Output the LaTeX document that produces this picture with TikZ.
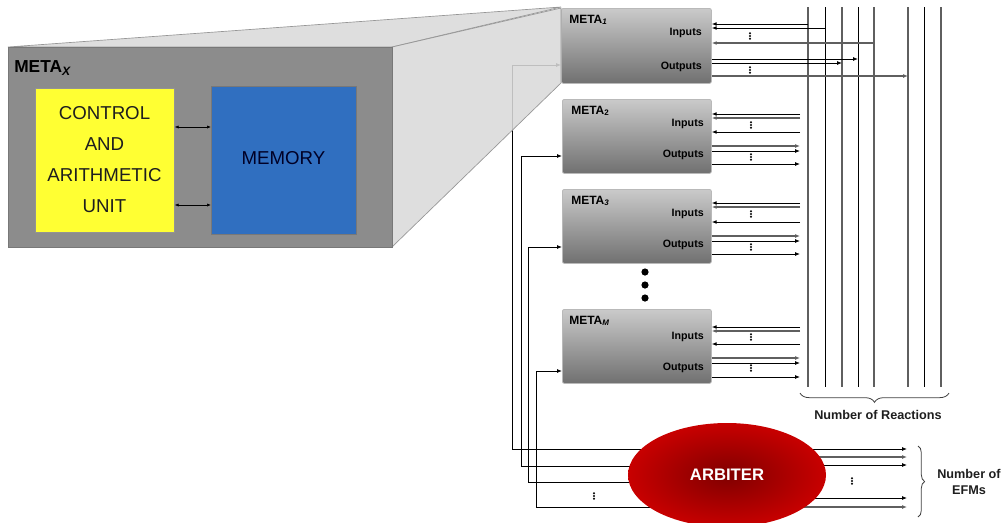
\documentclass[tikz,border=0pt]{standalone}
\usepackage{fontspec}
\setmainfont{Liberation Sans}
\usetikzlibrary{arrows.meta,decorations.pathreplacing,shapes.geometric}
\definecolor{facegray}{RGB}{217,217,217}
\definecolor{faceline}{RGB}{150,150,150}
\definecolor{boxgray}{RGB}{140,140,140}
\definecolor{boxline}{RGB}{120,120,120}
\definecolor{ctlyellow}{RGB}{255,255,51}
\definecolor{memblue}{RGB}{48,111,192}
\definecolor{metatop}{RGB}{202,202,202}
\definecolor{metabot}{RGB}{112,112,112}
\definecolor{metaline}{RGB}{185,185,185}
\definecolor{wiregray}{RGB}{95,95,95}
\definecolor{arbdark}{RGB}{128,0,0}
\definecolor{arbred}{RGB}{200,0,0}
\definecolor{txtdark}{RGB}{30,30,30}
\newcommand\mydots[1]{\fill #1 ++(0,-2.8) circle (1.15) ++(0,2.8) circle (1.15) ++(0,2.8) circle (1.15);}
\begin{document}
\begin{tikzpicture}[x=0.75pt,y=-0.75pt,
  tip/.style={-{Latex[length=3.6pt,width=2.8pt]}},
  wire/.style={black,line width=0.55pt},
  gwire/.style={wiregray,line width=0.85pt},
  bus/.style={wiregray,line width=1.1pt},
  bbus/.style={black,line width=0.7pt},
  metabox/.style={draw=metaline,line width=0.6pt,rounded corners=1.5pt,top color=metatop,bottom color=metabot,minimum width=111.75pt,minimum height=55.5pt,anchor=north west,inner sep=0pt},
  metalbl/.style={font=\fontsize{9}{10}\selectfont\bfseries,anchor=west,inner sep=0pt},
  iolbl/.style={font=\fontsize{8}{9}\selectfont\bfseries,anchor=east,inner sep=0pt},
  face/.style={fill=facegray,fill opacity=0.88,draw=faceline,line width=0.5pt},
  bigtxt/.style={font=\fontsize{14}{23.25}\selectfont,text=txtdark,align=center},
  dbl/.style={{Latex[length=3pt,width=2.4pt]}-{Latex[length=3pt,width=2.4pt]},black,line width=0.5pt},
  lbl/.style={font=\fontsize{9.5}{12}\selectfont\bfseries,text=txtdark,align=center,inner sep=0pt}
]
\useasboundingbox (0,0) rectangle (1001,522);

% coordinates
\coordinate (arbc) at (727,475);
\coordinate (busin) at (800,0);
\coordinate (efmend) at (907,0);
\foreach \n/\x in {1/808,2/825,3/842,4/858,5/874,6/908,7/924,8/941} {\coordinate (r\n) at (\x,7);}

% META boxes
\node[metabox,minimum width=112.5pt,minimum height=56.25pt] (meta1) at (561,8) {};
\node[metabox] (meta2) at (562,99) {};
\node[metabox] (meta3) at (562,189) {};
\node[metabox] (metam) at (562,309) {};

% feedback lines from arbiter
\draw[wire,tip] (arbc |- 0,449) -| (512,65) -- (meta1.west |- 0,65);
\draw[wire,tip] (arbc |- 0,466) -| (521,156) -- (meta2.west |- 0,156);
\draw[wire,tip] (arbc |- 0,482) -| (528,247) -- (meta3.west |- 0,247);
\draw[wire,tip] (arbc |- 0,507) -| (536,371) -- (metam.west |- 0,371);
\mydots{(594,496)}

% perspective faces and META_X
\path[face] (8,47) -- (561,7) -- (392,47) -- cycle;
\path[face] (392,47) -- (561,8) -- (561,83) -- (392,247) -- cycle;
\node[draw=boxline,fill=boxgray,line width=0.6pt,minimum width=288pt,minimum height=150pt,anchor=north west,inner sep=0pt] (metax) at (8,47) {};
\node[font=\fontsize{13}{15}\selectfont\bfseries,anchor=west,inner sep=0pt] (metaxl) at (14,68) {META\textsubscript{\textit{X}}};
\node[draw=boxline!80,fill=ctlyellow,line width=0.5pt,minimum width=104.25pt,minimum height=108pt,anchor=north west,inner sep=0pt] (ctl) at (35,88) {};
\node[bigtxt] (ctlt) at (104.5,160) {CONTROL\\AND\\ARITHMETIC\\UNIT};
\node[draw=boxline,fill=memblue,line width=0.5pt,minimum width=108.75pt,minimum height=111pt,anchor=north west,inner sep=0pt] (mem) at (211,86) {};
\node[bigtxt,text=black!85!blue] (memt) at (283.5,158) {MEMORY};
\draw[dbl] (ctl.east |- 0,127) -- (mem.west |- 0,127);
\draw[dbl] (ctl.east |- 0,205) -- (mem.west |- 0,205);

% META labels
\node[metalbl] (m1l) at (569,20) {META\textsubscript{\textit{1}}};
\node[iolbl] (m1i) at (702,33) {Inputs};
\node[iolbl] (m1o) at (702,67) {Outputs};
\node[metalbl] (m2l) at (571,111) {META\textsubscript{2}};
\node[iolbl] (m2i) at (704,124) {Inputs};
\node[iolbl] (m2o) at (704,155) {Outputs};
\node[metalbl] (m3l) at (571,201) {META\textsubscript{\textit{3}}};
\node[iolbl] (m3i) at (704,214) {Inputs};
\node[iolbl] (m3o) at (704,245) {Outputs};
\node[metalbl] (mml) at (569,321) {META\textsubscript{\textit{M}}};
\node[iolbl] (mmi) at (704,337) {Inputs};
\node[iolbl] (mmo) at (704,368) {Outputs};

% big dots
\foreach \y in {272,285,298} {\fill (645,\y) circle (3.6);}

% reaction buses
\foreach \n in {1,3,5,6,8} {\draw[bus] (r\n) -- ++(0,380);}
\foreach \n in {2,4,7} {\draw[bbus] (r\n) -- ++(0,380);}

% META1 wires
\draw[wire,tip] (r1 |- 0,24) -- (meta1.east |- 0,24);
\draw[wire,tip] (r2 |- 0,28) -- (meta1.east |- 0,28);
\draw[gwire,tip] (r5 |- 0,43) -- (meta1.east |- 0,43);
\draw[wire,tip] (meta1.east |- 0,59) -- (r4 |- 0,59);
\draw[wire,tip] (meta1.east |- 0,63) -- (r3 |- 0,63);
\draw[gwire,tip] (meta1.east |- 0,76) -- (r6 |- 0,76);
\mydots{(750,36)}
\mydots{(750,70)}

% META2, META3, META_M wires
\foreach \b/\a/\bb/\c/\o/\p/\q/\di/\do in {meta2/114/118/132/146/151/164/125/157, meta3/203/207/222/236/241/254/214/247, metam/327/331/344/358/363/377/337/368} {
  \draw[wire,tip] (busin |- 0,\a) -- (\b.east |- 0,\a);
  \draw[gwire,tip] (busin |- 0,\bb) -- (\b.east |- 0,\bb);
  \draw[wire,tip] (busin |- 0,\c) -- (\b.east |- 0,\c);
  \draw[gwire,tip] (\b.east |- 0,\o) -- (busin |- 0,\o);
  \draw[wire,tip] (\b.east |- 0,\p) -- (busin |- 0,\p);
  \draw[wire,tip] (\b.east |- 0,\q) -- (busin |- 0,\q);
  \mydots{(751,\di)}
  \mydots{(751,\do)}
}

% brace for reactions
\draw[decorate,decoration={brace,amplitude=7pt,mirror},black!75,line width=0.6pt] (800,393) -- (949,393);
\node[lbl] (nreact) at (878,415) {Number of Reactions};

% arbiter outputs
\foreach \y/\s in {449/wire,457/gwire,465/wire,498/wire,507/gwire} {\draw[\s,tip] (arbc |- 0,\y) -- (efmend |- 0,\y);}
\mydots{(852,481)}

% arbiter
\node[ellipse,minimum width=148.5pt,minimum height=78pt,inner color=arbdark,outer color=arbred,text=white,font=\fontsize{12.5}{14}\selectfont\bfseries] (arb) at (arbc) {ARBITER};

% brace for EFMs
\draw[decorate,decoration={brace,amplitude=5pt},black!75,line width=0.6pt] (918,446) -- (918,517);
\node[lbl,align=center,font=\fontsize{9.5}{12}\selectfont\bfseries] (nefm) at (969,482) {Number of\\EFMs};
\end{tikzpicture}
\end{document}
